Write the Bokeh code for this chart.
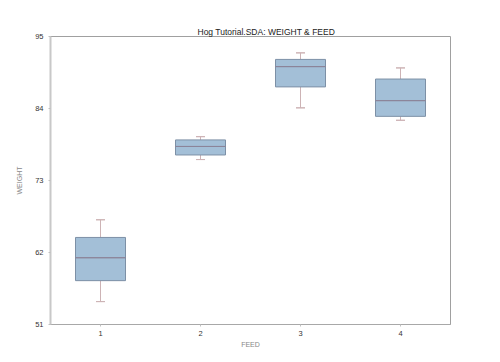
from bokeh.plotting import figure
from bokeh.models import FixedTicker, ColumnDataSource, Range1d
from bokeh.embed import file_html
from bokeh.resources import INLINE

feeds = [1, 2, 3, 4]
q1 = [57.7, 76.9, 87.3, 82.8]
medians = [61.2, 78.2, 90.4, 85.2]
q3 = [64.3, 79.2, 91.5, 88.5]
whisker_low = [54.5, 76.2, 84.1, 82.2]
whisker_high = [67.0, 79.7, 92.5, 90.2]
y_ticks = [51, 62, 73, 84, 95]

FONT = "Liberation Sans"

p = figure(frame_width=400, frame_height=288, output_backend="svg", toolbar_location=None,
           x_range=Range1d(0.5, 4.5), y_range=Range1d(51, 95),
           title="Hog Tutorial.SDA: WEIGHT & FEED",
           min_border_left=50, min_border_right=34, min_border_top=36, min_border_bottom=30)

p.title.text_font = FONT
p.title.text_font_size = "8.5px"
p.title.text_font_style = "normal"
p.title.text_color = "#222222"
p.title.align = "left"
p.title.offset = 147
p.title.standoff = 0

src = ColumnDataSource(dict(x=feeds, q1=q1, med=medians, q3=q3, lo=whisker_low, hi=whisker_high))

whisk_col = "#cdb3b5"
p.segment(x0="x", y0="q3", x1="x", y1="hi", source=src, line_color=whisk_col, line_width=1)
p.segment(x0="x", y0="lo", x1="x", y1="q1", source=src, line_color=whisk_col, line_width=1)
p.rect(x="x", y="hi", width=0.09, height=0.001, source=src, line_color=whisk_col, fill_alpha=0)
p.rect(x="x", y="lo", width=0.09, height=0.001, source=src, line_color=whisk_col, fill_alpha=0)
p.vbar(x="x", bottom="q1", top="q3", width=0.5, source=src,
       fill_color="#a3bfd7", line_color="#7d90a6", line_width=1)
p.rect(x="x", y="med", width=0.5, height=0.001, source=src, line_color="#8c8499", fill_alpha=0)

p.xgrid.visible = False
p.ygrid.visible = False
p.outline_line_color = "#a0a0a0"
p.outline_line_width = 1

p.xaxis.ticker = FixedTicker(ticks=feeds)
p.yaxis.ticker = FixedTicker(ticks=y_ticks)
p.xaxis.minor_tick_line_color = None
p.yaxis.minor_tick_line_color = None

for ax in (p.xaxis[0], p.yaxis[0]):
    ax.major_label_text_font = FONT
    ax.major_label_text_font_size = "7.5px"
    ax.major_label_text_color = "#333333"
    ax.axis_label_text_font = FONT
    ax.axis_label_text_font_size = "7px"
    ax.axis_label_text_font_style = "normal"
    ax.axis_label_text_color = "#888888"
    ax.major_tick_out = 2
    ax.major_tick_in = 0
    ax.major_tick_line_color = "#c0c0c0"

p.xaxis.axis_label = "FEED"
p.yaxis.axis_label = "WEIGHT"
p.xaxis.axis_line_color = "#a8a8a8"
p.xaxis.axis_line_width = 1
p.yaxis.axis_line_color = "#c8c8c8"
p.yaxis.axis_line_width = 2
p.xaxis.major_label_standoff = 4
p.yaxis.major_label_standoff = 5
p.xaxis.axis_label_standoff = 2
p.yaxis.axis_label_standoff = 9

open("out.html", "w").write(file_html(p, INLINE))
